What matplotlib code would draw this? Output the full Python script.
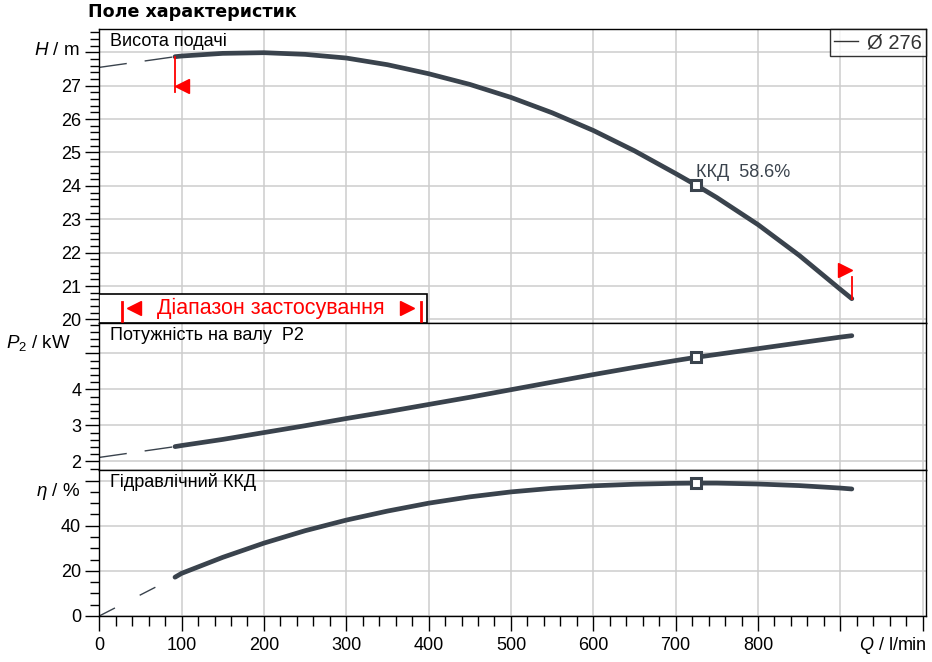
import matplotlib
matplotlib.use('Agg')
import matplotlib.pyplot as plt
from matplotlib.ticker import MultipleLocator
from matplotlib.patches import Rectangle
from matplotlib.lines import Line2D
from matplotlib.transforms import ScaledTranslation

plt.rcParams['font.family'] = ['Liberation Sans', 'DejaVu Sans']
plt.rcParams['mathtext.fontset'] = 'custom'
plt.rcParams['mathtext.rm'] = 'Liberation Sans'
plt.rcParams['mathtext.it'] = 'Liberation Sans:italic'

# ---------------- data ----------------
q = [92, 100, 150, 200, 250, 300, 350, 400, 450, 500, 550, 600, 650, 700, 725,
     750, 800, 850, 900, 914]
head = [27.87, 27.89, 27.97, 27.99, 27.94, 27.83, 27.63, 27.36, 27.04, 26.65,
        26.19, 25.66, 25.05, 24.37, 24.02, 23.65, 22.84, 21.92, 20.90, 20.62]
power = [2.41, 2.44, 2.61, 2.80, 2.99, 3.19, 3.38, 3.58, 3.78, 3.99, 4.20,
         4.41, 4.61, 4.80, 4.89, 4.97, 5.13, 5.29, 5.45, 5.49]
eta = [17.2, 18.9, 26.0, 32.3, 37.8, 42.5, 46.5, 50.0, 52.8, 55.0, 56.6,
       57.7, 58.4, 58.8, 58.9, 58.9, 58.5, 57.8, 56.7, 56.3]

q_ext = [0, 92]
head_ext = [27.55, 27.87]
power_ext = [2.11, 2.41]
eta_ext = [0.0, 17.2]

q_bep = 725
head_bep = 24.02
power_bep = 4.89
eta_bep = 58.9
bep_label = "ККД  58.6%"

range_q = [92, 914]
range_marker_h = [27.0, 21.47]
range_line_h = [26.82, 21.26]

q_ticks = [0, 100, 200, 300, 400, 500, 600, 700, 800, 900, 1000]
q_labels = ['0', '100', '200', '300', '400', '500', '600', '700', '800', '', '']
h_ticks = [20, 21, 22, 23, 24, 25, 26, 27, 28]
h_labels = ['20', '21', '22', '23', '24', '25', '26', '27', '']
p_ticks = [2, 3, 4, 5]
p_labels = ['2', '3', '4', '']
e_ticks = [0, 20, 40, 60]
e_labels = ['0', '20', '40', '']

curve_color = '#3a434d'
grid_color = '#cdcdcd'

# ---------------- figure ----------------
fig = plt.figure(figsize=(9.32, 6.62), dpi=100)
L, W = 0.1065, 0.887
ax1 = fig.add_axes([L, 0.5125, W, 0.4432])
ax2 = fig.add_axes([L, 0.2900, W, 0.2225])
ax3 = fig.add_axes([L, 0.0695, W, 0.2205])

for ax in (ax1, ax2, ax3):
    ax.set_xlim(0, 1004)
    ax.set_xticks(q_ticks)
    ax.xaxis.set_minor_locator(MultipleLocator(20))
    ax.grid(True, which='major', color=grid_color, lw=1.1)
    ax.set_axisbelow(True)
    for s in ax.spines.values():
        s.set_color('black')
        s.set_linewidth(1.0)
    ax.tick_params(axis='y', which='major', direction='out', length=10,
                   width=1.0, labelsize=13, pad=3, right=False)
    ax.tick_params(axis='y', which='minor', direction='out', length=6.5,
                   width=1.0, right=False)

for ax in (ax1, ax2):
    ax.tick_params(axis='x', which='both', bottom=False, top=False,
                   labelbottom=False)

ax3.set_xticklabels(q_labels)
ax3.tick_params(axis='x', which='major', direction='out', length=11,
                width=1.0, labelsize=13, pad=4, top=False)
ax3.tick_params(axis='x', which='minor', direction='out', length=7,
                width=1.0, top=False)

# ---- top panel: head ----
ax1.set_ylim(19.9, 28.69)
ax1.set_yticks(h_ticks)
ax1.set_yticklabels(h_labels)
ax1.yaxis.set_minor_locator(MultipleLocator(0.2))
ax1.plot(q_ext, head_ext, color=curve_color, lw=1.0, dashes=(20, 13))
ax1.plot(q, head, color=curve_color, lw=3.4, solid_capstyle='round',
         solid_joinstyle='round', zorder=4)
ax1.plot([q_bep], [head_bep], marker='s', ms=7.5, mfc='white',
         mec=curve_color, mew=2.2, zorder=6)
ax1.annotate(bep_label, (q_bep, head_bep), xytext=(0, 9),
             textcoords='offset points', ha='left', va='center',
             fontsize=13, color='#3a434d', zorder=7)

# operating range markers
ms_tri = 10.4
ax1.plot([range_q[0], range_q[0]], [head[0], range_line_h[0]], color='red',
         lw=1.3, zorder=5)
ax1.plot([range_q[1], range_q[1]], [head[-1], range_line_h[1]], color='red',
         lw=1.3, zorder=5)
trL = ax1.transData + ScaledTranslation(ms_tri / 2 / 72, 0, fig.dpi_scale_trans)
trR = ax1.transData + ScaledTranslation(-ms_tri / 2 / 72, 0, fig.dpi_scale_trans)
ax1.plot([range_q[0]], [range_marker_h[0]], marker='<', ms=ms_tri,
         color='red', mec='red', transform=trL, zorder=5)
ax1.plot([range_q[1]], [range_marker_h[1]], marker='>', ms=ms_tri,
         color='red', mec='red', transform=trR, zorder=5)

# application range box
ax1.add_patch(Rectangle((0, 0), 0.397, 0.0968, transform=ax1.transAxes,
                        fc='white', ec='black', lw=1.2, zorder=3))
ax1.text(0.2076, 0.050, 'Діапазон застосування', transform=ax1.transAxes,
         color='red', fontsize=15.5, ha='center', va='center', zorder=4)
ax1.plot([0.0426], [0.050], marker='<', ms=10, color='red', mec='red',
         transform=ax1.transAxes, zorder=4, clip_on=False)
ax1.plot([0.3728], [0.050], marker='>', ms=10, color='red', mec='red',
         transform=ax1.transAxes, zorder=4, clip_on=False)
for xf in (0.0278, 0.3888):
    ax1.plot([xf, xf], [0.003, 0.0716], transform=ax1.transAxes, color='red',
             lw=2.0, zorder=4)

ax1.text(0.013, 0.9577, 'Висота подачі', transform=ax1.transAxes,
         fontsize=13, ha='left', va='center')
ax1.text(-0.0233, 0.9294, '$H$ / m', transform=ax1.transAxes, fontsize=13.5,
         ha='right', va='center')

leg = ax1.legend(handles=[Line2D([], [], color='#333333', lw=1.0)],
                 labels=['Ø 276'], loc='upper right', borderaxespad=0,
                 fontsize=14.5, frameon=True, fancybox=False,
                 handlelength=1.2, handletextpad=0.45, borderpad=0.2)
leg.get_frame().set_edgecolor('black')
leg.get_frame().set_linewidth(1.0)
for t in leg.get_texts():
    t.set_color('#333333')

# ---- middle panel: power ----
ax2.set_ylim(1.76, 5.85)
ax2.set_yticks(p_ticks)
ax2.set_yticklabels(p_labels)
ax2.yaxis.set_minor_locator(MultipleLocator(0.2))
ax2.plot(q_ext, power_ext, color=curve_color, lw=1.0, dashes=(20, 13))
ax2.plot(q, power, color=curve_color, lw=3.4, solid_capstyle='round',
         solid_joinstyle='round', zorder=4)
ax2.plot([q_bep], [power_bep], marker='s', ms=7.5, mfc='white',
         mec=curve_color, mew=2.2, zorder=6)
ax2.text(0.013, 0.9165, 'Потужність на валу  P2', transform=ax2.transAxes,
         fontsize=13, ha='left', va='center')
ax2.text(-0.0342, 0.862, '$P_2$ / kW', transform=ax2.transAxes, fontsize=13.5,
         ha='right', va='center')

# ---- bottom panel: efficiency ----
ax3.set_ylim(0, 64.7)
ax3.set_yticks(e_ticks)
ax3.set_yticklabels(e_labels)
ax3.yaxis.set_minor_locator(MultipleLocator(5))
ax3.plot(q_ext, eta_ext, color=curve_color, lw=1.0, dashes=(12.7, 20))
ax3.plot(q, eta, color=curve_color, lw=3.4, solid_capstyle='round',
         solid_joinstyle='round', zorder=4)
ax3.plot([q_bep], [eta_bep], marker='s', ms=7.5, mfc='white',
         mec=curve_color, mew=2.2, zorder=6)
ax3.text(0.013, 0.92, 'Гідравлічний ККД', transform=ax3.transAxes,
         fontsize=13, ha='left', va='center')
ax3.text(-0.0233, 0.856, r'$\eta$ / %', transform=ax3.transAxes, fontsize=13.5,
         ha='right', va='center')
ax3.text(1.0012, -0.2055, '$Q$ / l/min', transform=ax3.transAxes,
         fontsize=13, ha='right', va='center')

fig.text(88 / 932, 1 - 12 / 662, 'Поле характеристик', fontsize=12.6,
         fontweight='bold', family='DejaVu Sans', ha='left', va='center')

fig.savefig('out.png', dpi=100)
